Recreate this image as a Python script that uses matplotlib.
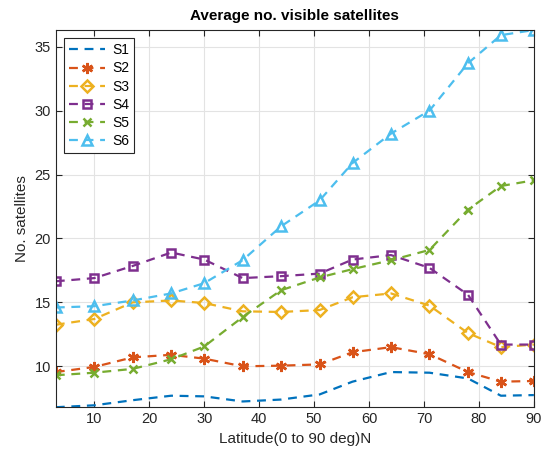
import numpy as np
import matplotlib
matplotlib.use("Agg")
import matplotlib.pyplot as plt

plt.rcParams['font.family'] = ['Liberation Sans', 'DejaVu Sans']

# latitude (deg N)
lat = [3, 10, 17, 24, 30, 37, 44, 51, 57, 64, 71, 78, 84, 90]

s1 = [6.8, 6.95, 7.35, 7.7, 7.65, 7.25, 7.4, 7.8, 8.8, 9.55, 9.5, 9.05, 7.7, 7.75]
s2 = [9.55, 9.95, 10.7, 10.9, 10.6, 10.0, 10.05, 10.15, 11.1, 11.5, 10.95, 9.55, 8.8, 8.85]
s3 = [13.25, 13.7, 15.0, 15.15, 14.95, 14.3, 14.25, 14.4, 15.4, 15.7, 14.75, 12.6, 11.5, 11.7]
s4 = [16.65, 16.9, 17.85, 18.9, 18.35, 16.9, 17.05, 17.25, 18.35, 18.7, 17.7, 15.6, 11.7, 11.7]
s5 = [9.3, 9.5, 9.8, 10.55, 11.55, 13.85, 15.95, 16.95, 17.6, 18.3, 19.1, 22.25, 24.1, 24.55]
s6 = [14.6, 14.7, 15.15, 15.7, 16.5, 18.3, 20.95, 22.97, 25.9, 28.2, 30.0, 33.7, 35.9, 36.3]

series = [s1, s2, s3, s4, s5, s6]
labels = ["S1", "S2", "S3", "S4", "S5", "S6"]
colors = ["#0072BD", "#D95319", "#EDB120", "#7E2F8E", "#77AC30", "#4DBEEE"]
markers = ["None", (6, 2, 0), "D", "s", "x", "^"]
msizes = [0, 8, 6, 6, 6, 7]

fig = plt.figure(figsize=(5.42, 4.55), dpi=100)
ax = fig.add_axes([0.103, 0.105, 0.882, 0.829])

for y, lab, c, m, ms in zip(series, labels, colors, markers, msizes):
    ax.plot(lat, y, linestyle="--", color=c, linewidth=1.6, marker=m,
            markersize=ms, markerfacecolor="none",
            markeredgewidth=1.8, label=lab, dashes=(4, 3))

ax.set_xlim(3, 90)
ax.set_ylim(min(s1), max(s6))
ax.set_xticks(np.arange(10, 91, 10))
ax.set_yticks(np.arange(10, 36, 5))
ax.grid(True, color="#e3e3e3", linewidth=0.8)
ax.set_axisbelow(True)
ax.tick_params(direction="in", top=True, right=True, labelsize=10.5, colors="#262626",
               length=4)
for sp in ax.spines.values():
    sp.set_color("#262626")
    sp.set_linewidth(0.8)

ax.set_title("Average no. visible satellites", fontsize=11, fontweight="bold", pad=7)
ax.set_xlabel("Latitude(0 to 90 deg)N", fontsize=11, color="#262626", labelpad=4)
ax.set_ylabel("No. satellites", fontsize=11, color="#262626", labelpad=4)

leg = ax.legend(loc="upper left", fontsize=10, fancybox=False, edgecolor="#262626",
                framealpha=1, handlelength=2.6, handletextpad=0.5, borderpad=0.35,
                borderaxespad=0.6, labelspacing=0.3)
leg.get_frame().set_linewidth(0.8)

fig.savefig("out.png", dpi=100)
